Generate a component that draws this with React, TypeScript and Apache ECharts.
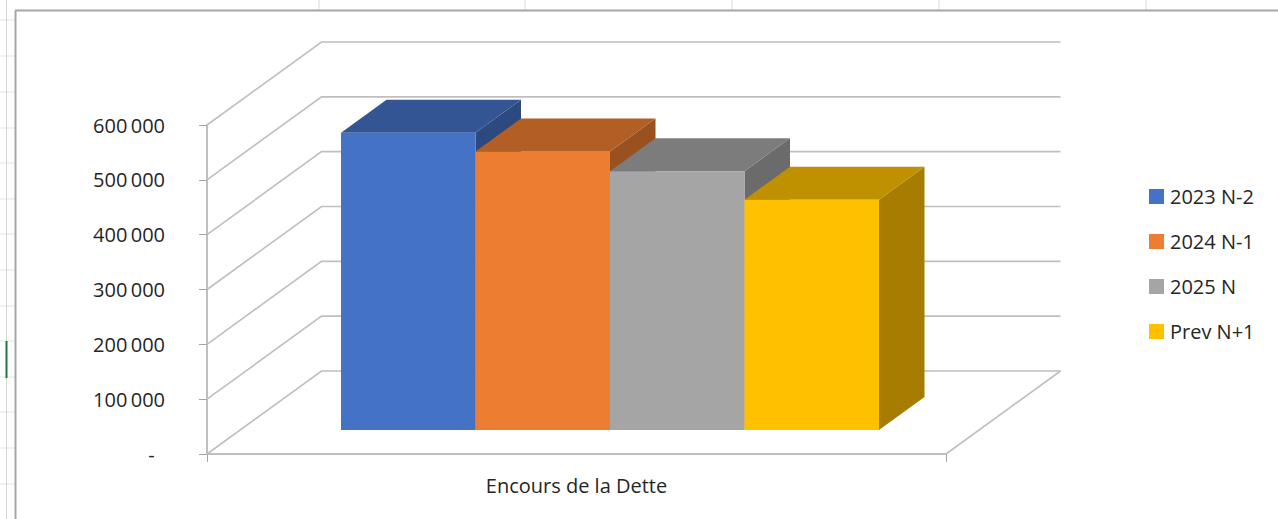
import React, { useEffect, useRef } from "react";
import * as echarts from "echarts";

const categories = ["Encours de la Dette"];
const seriesNames = ["2023 N-2", "2024 N-1", "2025 N", "Prev N+1"];
const values2023 = [542000];
const values2024 = [508000];
const values2025 = [472000];
const valuesPrev = [420000];
const yTicks = [0, 100000, 200000, 300000, 400000, 500000, 600000];
const frontColors = ["#4472C4", "#ED7D31", "#A5A5A5", "#FFC000"];
const topColors = ["#335593", "#B25E24", "#7C7C7C", "#BF9000"];
const sideColors = ["#2C4A80", "#9A5120", "#6B6B6B", "#A67D00"];
const sheetColumnLines = [319, 525, 732, 939, 1146];
const sheetRowLines = [20, 56, 92, 128, 163, 199, 234, 270, 306, 341, 377, 412, 448, 484];

const WALL_DX = 114.5;
const WALL_DY = -83;
const BAR_DX = 45.5;
const BAR_DY = -33;
const BAR_FRONT_DX = 33.5;
const BAR_FRONT_DY = -24;
const BAR_WIDTH = 134.5;
const AXIS_GRAY = "#bfbfbf";

function fmt(v: number) {
  if (v === 0) return "-\u00a0\u00a0";
  return `${Math.round(v / 1000)}\u2009000`;
}

const wallItem = (params: any, api: any) => {
  const v = api.value(0);
  const cs = params.coordSys;
  const y = api.coord([0, v])[1];
  const x0 = cs.x;
  const x1 = cs.x + cs.width;
  const style = { fill: "none", stroke: AXIS_GRAY, lineWidth: v === 0 || v === 600000 ? 2.4 : 1.6 };
  const children: any[] = [
    {
      type: "polyline",
      shape: { points: [[x0, y], [x0 + WALL_DX, y + WALL_DY], [x1 + WALL_DX, y + WALL_DY]] },
      style: { ...style, lineWidth: 1.6 },
    },
  ];
  if (v === 0) {
    children.push({
      type: "line",
      shape: { x1, y1: y, x2: x1 + WALL_DX, y2: y + WALL_DY },
      style: { stroke: AXIS_GRAY, lineWidth: 1.6 },
    });
  }
  return { type: "group", children };
};

const barItem = (s: number) => (params: any, api: any) => {
  const band = api.size([1, 0])[0];
  const center = api.coord([api.value(0), 0])[0];
  const base = api.coord([api.value(0), 0])[1] + BAR_FRONT_DY;
  const top = api.coord([api.value(0), api.value(1)])[1] + BAR_FRONT_DY;
  const total = BAR_WIDTH * seriesNames.length;
  const left = center - total / 2 + BAR_FRONT_DX + s * BAR_WIDTH + (band - band);
  const right = left + BAR_WIDTH;
  return {
    type: "group",
    children: [
      {
        type: "polygon",
        shape: { points: [[right, top], [right + BAR_DX, top + BAR_DY], [right + BAR_DX, base + BAR_DY], [right, base]] },
        style: { fill: sideColors[s] },
      },
      {
        type: "polygon",
        shape: { points: [[left, top], [left + BAR_DX, top + BAR_DY], [right + BAR_DX, top + BAR_DY], [right, top]] },
        style: { fill: topColors[s] },
      },
      {
        type: "rect",
        shape: { x: left, y: top, width: BAR_WIDTH, height: base - top },
        style: { fill: frontColors[s] },
      },
    ],
  };
};

const barSeries = (s: number, values: number[]) => ({
  type: "custom",
  name: seriesNames[s],
  coordinateSystem: "cartesian2d",
  clip: false,
  itemStyle: { color: frontColors[s] },
  encode: { x: 0, y: 1 },
  data: values.map((v, i) => [i, v]),
  renderItem: barItem(s),
});

const sheetLines = [
  ...sheetColumnLines.map((x) => ({
    type: "line",
    shape: { x1: x, y1: 0, x2: x, y2: 10 },
    style: { stroke: "#d9d9d9", lineWidth: 1 },
  })),
  ...sheetRowLines.map((y) => ({
    type: "line",
    shape: { x1: 0, y1: y, x2: 15, y2: y },
    style: { stroke: "#e3e3e3", lineWidth: 1 },
  })),
  { type: "line", shape: { x1: 6.5, y1: 0, x2: 6.5, y2: 519 }, style: { stroke: "#d4d4d4", lineWidth: 1 } },
  { type: "line", shape: { x1: 6.5, y1: 341, x2: 6.5, y2: 378 }, style: { stroke: "#217346", lineWidth: 2 } },
  { type: "line", shape: { x1: 15.5, y1: 10.5, x2: 15.5, y2: 519 }, style: { stroke: "#a6a6a6", lineWidth: 2 } },
  { type: "line", shape: { x1: 15, y1: 10.5, x2: 1278, y2: 10.5 }, style: { stroke: "#a6a6a6", lineWidth: 2 } },
];

const FONT = "'Open Sans'";

export default function App() {
  const ref = useRef<HTMLDivElement>(null);
  useEffect(() => {
    const chart = echarts.init(ref.current!, undefined, { renderer: "svg" });
    chart.setOption({
      animation: false,
      backgroundColor: "#ffffff",
      textStyle: { fontFamily: FONT },
      grid: { left: 207, top: 125, width: 739, height: 329, containLabel: false },
      legend: {
        orient: "vertical",
        left: 1149,
        top: 184,
        padding: 0,
        itemWidth: 15,
        itemHeight: 15,
        itemGap: 20,
        icon: "rect",
        data: seriesNames,
        textStyle: { fontFamily: FONT, fontSize: 20, color: "#262626", padding: [0, 0, 0, 1], lineHeight: 25 },
      },
      xAxis: {
        type: "category",
        data: categories,
        axisLine: { show: true, lineStyle: { color: AXIS_GRAY, width: 2 } },
        axisTick: { show: true, length: 8, lineStyle: { color: "#a6a6a6", width: 1 } },
        axisLabel: { margin: 21, fontFamily: FONT, fontSize: 20, color: "#262626" },
      },
      yAxis: {
        type: "value",
        min: 0,
        max: 600000,
        interval: 100000,
        splitLine: { show: false },
        axisLine: { show: true, lineStyle: { color: AXIS_GRAY, width: 2 } },
        axisTick: { show: true, length: 8, lineStyle: { color: "#a6a6a6", width: 1 } },
        axisLabel: { margin: 42, fontFamily: FONT, fontSize: 20, color: "#262626", formatter: (v: number) => fmt(v) },
      },
      graphic: { elements: sheetLines },
      series: [
        {
          type: "custom",
          name: "walls",
          coordinateSystem: "cartesian2d",
          clip: false,
          silent: true,
          z: 1,
          encode: { y: 0 },
          data: yTicks.map((v) => [v]),
          renderItem: wallItem,
        },
        barSeries(0, values2023),
        barSeries(1, values2024),
        barSeries(2, values2025),
        barSeries(3, valuesPrev),
      ],
    });
    return () => chart.dispose();
  }, []);
  return (
    <div style={{ position: "fixed", left: 0, top: 0, width: 1278, height: 519, overflow: "hidden", background: "#fff" }}>
      <div ref={ref} style={{ width: 1278, height: 519 }} />
    </div>
  );
}
